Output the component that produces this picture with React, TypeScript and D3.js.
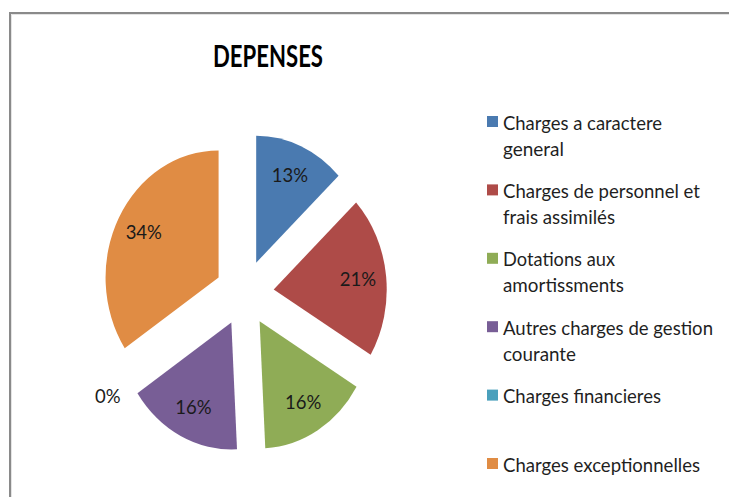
import React from "react";
import * as d3 from "d3";

// ---- data ----
const title = "DEPENSES";
const categories = [
  "Charges a caractere general",
  "Charges de personnel et frais assimilés",
  "Dotations aux amortissments",
  "Autres charges de gestion courante",
  "Charges financieres",
  "Charges exceptionnelles",
];
const legendLines = [
  ["Charges a caractere", "general"],
  ["Charges de personnel et", "frais assimilés"],
  ["Dotations aux", "amortissments"],
  ["Autres charges de gestion", "courante"],
  ["Charges financieres"],
  ["Charges exceptionnelles"],
];
const shares = [13.0, 20.6, 15.6, 16.4, 0, 34.4];
const colors = ["#4A7AB0", "#AE4B48", "#8FAC56", "#785E96", "#4AA0BC", "#E08C44"];

// ---- layout / style ----
const W = 729;
const H = 497;
const FONT = "Lato, 'Open Sans', sans-serif";
const cx = 244.5;
const cy = 293;
const R = 127;
const squeeze = 0.89; // horizontal compression of the picture
const explode = 33;
const legendWidths = [
  [159, 61],
  [197, 112],
  [112, 121],
  [210, 73],
  [158],
  [197],
];

export default function App() {
  const pieData = d3.pie<number>().sort(null).value((d) => d)(shares);
  const arc = d3.arc<d3.PieArcDatum<number>>().innerRadius(0).outerRadius(R);

  const mid = (d: d3.PieArcDatum<number>) => (d.startAngle + d.endAngle) / 2;

  return (
    <svg
      width={W}
      height={H}
      style={{ position: "absolute", left: 0, top: 0, background: "#fff" }}
      fontFamily={FONT}
    >
      <rect x={0} y={0} width={W} height={H} fill="#fff" />
      {/* frame */}
      <path d={`M10,${H} V13 H${W}`} fill="none" stroke="#8a8a8a" strokeWidth={2} />
      <path d={`M11.5,${H} V14.5 H${W}`} fill="none" stroke="#e4e4e4" strokeWidth={1} />

      {/* title */}
      <text
        x={268}
        y={67}
        textAnchor="middle"
        fontSize={30}
        fontWeight={700}
        fill="#000"
        textLength={110}
        lengthAdjust="spacingAndGlyphs"
      >
        {title}
      </text>

      {/* pie */}
      <g transform={`translate(${cx},${cy}) scale(${squeeze},1)`}>
        {pieData.map((d, i) =>
          d.value > 0 ? (
            <path
              key={categories[i]}
              d={arc(d) || ""}
              transform={`translate(${explode * Math.sin(mid(d))},${-explode * Math.cos(mid(d))})`}
              fill={colors[i]}
            />
          ) : null
        )}
      </g>

      {/* data labels */}
      {pieData.map((d, i) => {
        const a = mid(d);
        const small = d.value < 1;
        const r = small ? explode + R + 25 : explode + 0.75 * R;
        const x = cx + squeeze * r * Math.sin(a);
        const y = cy - r * Math.cos(a);
        return (
          <text
            key={"l" + i}
            x={x}
            y={y + 6.5}
            textAnchor="middle"
            fontSize={18.5}
            fill="#1a1a1a"
          >
            {Math.round(d.value) + "%"}
          </text>
        );
      })}

      {/* legend */}
      {legendLines.map((lines, i) => {
        const top = 116 + i * 68.4;
        return (
          <g key={"lg" + i}>
            <rect x={487} y={top} width={11} height={11} fill={colors[i]} />
            {lines.map((ln, j) => (
              <text
                key={j}
                x={503}
                y={top + 13.5 + j * 26}
                fontSize={20}
                fill="#1f1f1f"
                textLength={legendWidths[i][j]}
                lengthAdjust="spacingAndGlyphs"
              >
                {ln}
              </text>
            ))}
          </g>
        );
      })}
    </svg>
  );
}
